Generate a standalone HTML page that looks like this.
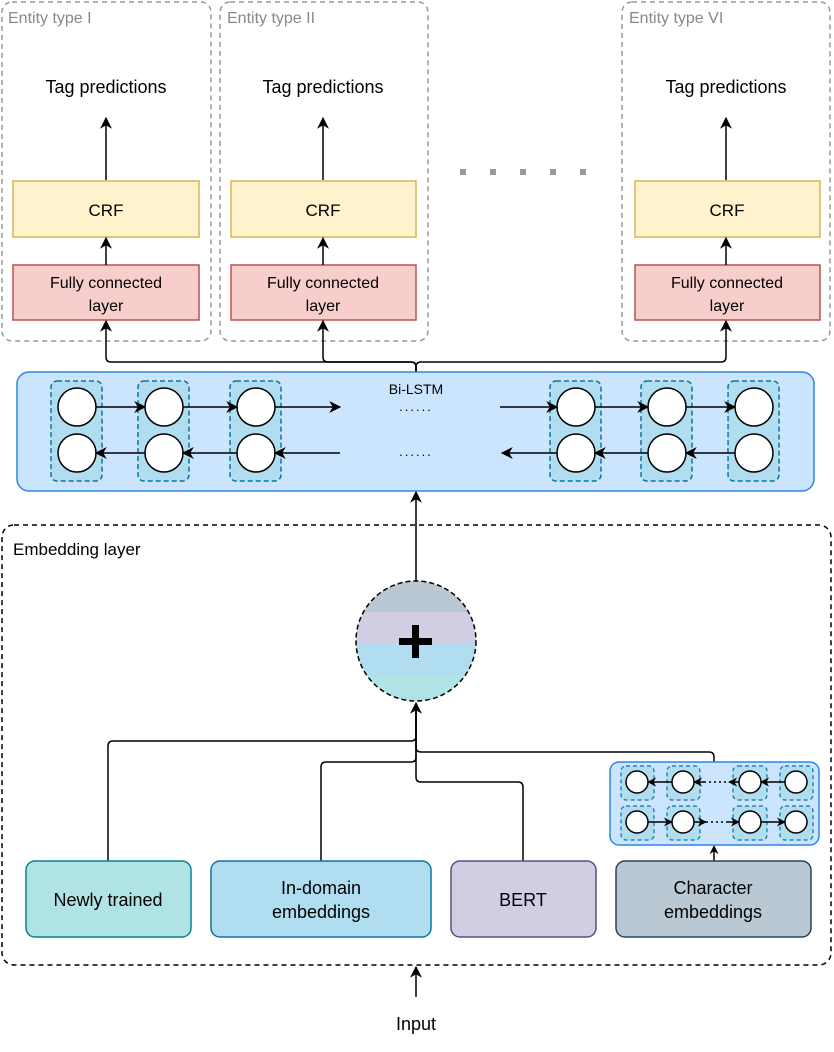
<!DOCTYPE html>
<html><head><style>body{margin:0;background:#fff}svg{display:block;font-family:"Liberation Sans",sans-serif}</style></head><body>
<svg width="834" height="1052" viewBox="0 0 834 1052" xmlns="http://www.w3.org/2000/svg">
<defs>
<marker id="a" viewBox="0 0 10 10" refX="9" refY="5" markerWidth="8" markerHeight="8" orient="auto-start-reverse"><path d="M0,0 L10,5 L0,10 L3,5 z" fill="#000"/></marker>
<marker id="s" viewBox="0 0 10 10" refX="9" refY="5" markerWidth="6" markerHeight="6" orient="auto-start-reverse"><path d="M0,0 L10,5 L0,10 L3,5 z" fill="#000"/></marker>
<clipPath id="cc"><circle cx="416" cy="641" r="60"/></clipPath>
</defs>
<g fill="none" stroke="#999" stroke-width="1.5" stroke-dasharray="5,4">
<rect x="2" y="2" width="209" height="339" rx="10"/>
<rect x="220" y="2" width="208" height="339" rx="10"/>
<rect x="622" y="2" width="208" height="339" rx="10"/>
</g>
<g font-size="16" fill="#888"><text x="8" y="23">Entity type I</text><text x="227" y="23">Entity type II</text><text x="629" y="23">Entity type VI</text></g>
<g fill="#999"><rect x="460" y="169" width="6" height="6"/><rect x="490" y="169" width="6" height="6"/><rect x="520" y="169" width="6" height="6"/><rect x="550" y="169" width="6" height="6"/><rect x="580" y="169" width="6" height="6"/></g>
<g font-size="18" text-anchor="middle">
<text x="106" y="93">Tag predictions</text><text x="323" y="93">Tag predictions</text><text x="726" y="93">Tag predictions</text></g>
<g stroke="#d6b656" fill="#fff2cc" stroke-width="1.5">
<rect x="13" y="181" width="186" height="56"/><rect x="231" y="181" width="185" height="56"/><rect x="635" y="181" width="185" height="56"/></g>
<g stroke="#b85450" fill="#f8cecc" stroke-width="1.5">
<rect x="13" y="265" width="186" height="55"/><rect x="231" y="265" width="185" height="55"/><rect x="635" y="265" width="185" height="55"/></g>
<g font-size="17" text-anchor="middle"><text x="106" y="216">CRF</text><text x="323" y="216">CRF</text><text x="727" y="216">CRF</text></g>
<g font-size="16" text-anchor="middle">
<text x="106" y="288">Fully connected</text><text x="106" y="311">layer</text>
<text x="323" y="288">Fully connected</text><text x="323" y="311">layer</text>
<text x="727" y="288">Fully connected</text><text x="727" y="311">layer</text></g>
<g stroke="#000" stroke-width="1.5" fill="none" marker-end="url(#a)">
<line x1="106" y1="180" x2="106" y2="118"/><line x1="323" y1="180" x2="323" y2="118"/><line x1="726" y1="180" x2="726" y2="118"/>
<line x1="106" y1="265" x2="106" y2="238"/><line x1="323" y1="265" x2="323" y2="238"/><line x1="726" y1="265" x2="726" y2="238"/>
<path d="M416,372 V367 Q416,362 411,362 H111 Q106,362 106,357 V321"/>
<path d="M416,372 V367 Q416,362 411,362 H328 Q323,362 323,357 V321"/>
<path d="M416,372 V367 Q416,362 421,362 H721 Q726,362 726,357 V321"/>
<line x1="416" y1="582" x2="416" y2="492"/>
<line x1="416" y1="997" x2="416" y2="967"/>
</g>
<rect x="17" y="372" width="797" height="119" rx="12" fill="#cce5ff" stroke="#2b87e0" stroke-width="1.5"/>
<text x="416" y="394" font-size="14" text-anchor="middle">Bi-LSTM</text>
<text x="416" y="411" font-size="13" text-anchor="middle" letter-spacing="2">......</text>
<text x="416" y="456" font-size="13" text-anchor="middle" letter-spacing="2">......</text>
<g fill="#b1ddf0" stroke="#10739e" stroke-width="1.5" stroke-dasharray="5,3">
<rect x="51" y="381" width="51" height="100" rx="6"/><rect x="138" y="381" width="51" height="100" rx="6"/><rect x="230" y="381" width="51" height="100" rx="6"/>
<rect x="550" y="381" width="51" height="100" rx="6"/><rect x="641" y="381" width="51" height="100" rx="6"/><rect x="728" y="381" width="51" height="100" rx="6"/></g>
<g fill="#fff" stroke="#000" stroke-width="1.5">
<circle cx="77" cy="407" r="19"/><circle cx="77" cy="453" r="19"/><circle cx="164" cy="407" r="19"/><circle cx="164" cy="453" r="19"/><circle cx="256" cy="407" r="19"/><circle cx="256" cy="453" r="19"/>
<circle cx="576" cy="407" r="19"/><circle cx="576" cy="453" r="19"/><circle cx="667" cy="407" r="19"/><circle cx="667" cy="453" r="19"/><circle cx="754" cy="407" r="19"/><circle cx="754" cy="453" r="19"/></g>
<g stroke="#000" stroke-width="1.5" marker-end="url(#a)">
<line x1="96" y1="407" x2="145" y2="407"/><line x1="183" y1="407" x2="237" y2="407"/><line x1="275" y1="407" x2="340" y2="407"/>
<line x1="500" y1="407" x2="557" y2="407"/><line x1="595" y1="407" x2="648" y2="407"/><line x1="686" y1="407" x2="735" y2="407"/>
<line x1="145" y1="453" x2="96" y2="453"/><line x1="237" y1="453" x2="183" y2="453"/><line x1="340" y1="453" x2="275" y2="453"/>
<line x1="557" y1="453" x2="502" y2="453"/><line x1="648" y1="453" x2="595" y2="453"/><line x1="735" y1="453" x2="686" y2="453"/>
</g>
<rect x="2" y="525" width="829" height="440" rx="12" fill="none" stroke="#000" stroke-width="1.5" stroke-dasharray="5,4"/>
<text x="13" y="555" font-size="17">Embedding layer</text>
<g clip-path="url(#cc)">
<rect x="350" y="578" width="140" height="35" fill="#bac8d3"/><rect x="350" y="612" width="140" height="32" fill="#d0cee2"/><rect x="350" y="643" width="140" height="33" fill="#b1ddf0"/><rect x="350" y="675" width="140" height="30" fill="#b0e3e6"/></g>
<circle cx="416" cy="641" r="60" fill="none" stroke="#000" stroke-width="1.5" stroke-dasharray="5,3"/>
<rect x="399" y="638" width="33" height="7" fill="#000"/><rect x="412" y="625" width="7" height="33" fill="#000"/>
<g stroke="#000" stroke-width="1.5" fill="none">
<path d="M108,861 V746 Q108,741 113,741 H411 Q416,741 416,736 V703" marker-end="url(#a)"/>
<path d="M321,861 V767 Q321,762 326,762 H411 Q416,762 416,757 V710"/>
<path d="M523,861 V787 Q523,782 518,782 H421 Q416,782 416,777 V710"/>
<path d="M714,762 V757 Q714,752 709,752 H421 Q416,752 416,747 V710"/>
<line x1="714" y1="861" x2="714" y2="846" marker-end="url(#s)"/>
</g>
<rect x="610" y="762" width="209" height="83" rx="9" fill="#cce5ff" stroke="#2b87e0" stroke-width="1.5"/>
<g fill="#b1ddf0" stroke="#10739e" stroke-width="1.2" stroke-dasharray="4,3">
<rect x="621" y="766" width="33" height="34" rx="5"/><rect x="667" y="766" width="33" height="34" rx="5"/><rect x="733" y="766" width="34" height="34" rx="5"/><rect x="780" y="766" width="33" height="34" rx="5"/>
<rect x="621" y="806" width="33" height="34" rx="5"/><rect x="667" y="806" width="33" height="34" rx="5"/><rect x="733" y="806" width="34" height="34" rx="5"/><rect x="780" y="806" width="33" height="34" rx="5"/></g>
<g fill="#fff" stroke="#000" stroke-width="1.5">
<circle cx="637" cy="782" r="11"/><circle cx="683" cy="782" r="11"/><circle cx="750" cy="782" r="11"/><circle cx="796" cy="782" r="11"/>
<circle cx="637" cy="822" r="11"/><circle cx="683" cy="822" r="11"/><circle cx="750" cy="822" r="11"/><circle cx="796" cy="822" r="11"/></g>
<g stroke="#000" stroke-width="1.5" marker-end="url(#s)">
<line x1="672" y1="782" x2="648" y2="782"/><line x1="704" y1="782" x2="694" y2="782" /><line x1="785" y1="782" x2="761" y2="782"/><line x1="739" y1="782" x2="729" y2="782"/>
<line x1="648" y1="822" x2="672" y2="822"/><line x1="694" y1="822" x2="706" y2="822"/><line x1="728" y1="822" x2="739" y2="822"/><line x1="761" y1="822" x2="785" y2="822"/></g>
<g stroke="#000" stroke-width="1.5" stroke-dasharray="2,3"><line x1="704" y1="782" x2="728" y2="782"/><line x1="706" y1="822" x2="728" y2="822"/></g>
<rect x="26" y="861" width="165" height="76" rx="9" fill="#b0e3e6" stroke="#0e8088" stroke-width="1.5"/>
<rect x="211" y="861" width="220" height="76" rx="9" fill="#b1ddf0" stroke="#10739e" stroke-width="1.5"/>
<rect x="451" y="861" width="145" height="76" rx="9" fill="#d0cee2" stroke="#56517e" stroke-width="1.5"/>
<rect x="616" y="861" width="195" height="76" rx="9" fill="#bac8d3" stroke="#23445d" stroke-width="1.5"/>
<g font-size="18" text-anchor="middle">
<text x="108" y="906">Newly trained</text>
<text x="321" y="894">In-domain</text><text x="321" y="918">embeddings</text>
<text x="523" y="906">BERT</text>
<text x="713" y="894">Character</text><text x="713" y="918">embeddings</text>
<text x="416" y="1030">Input</text></g>
</svg>
</body></html>
